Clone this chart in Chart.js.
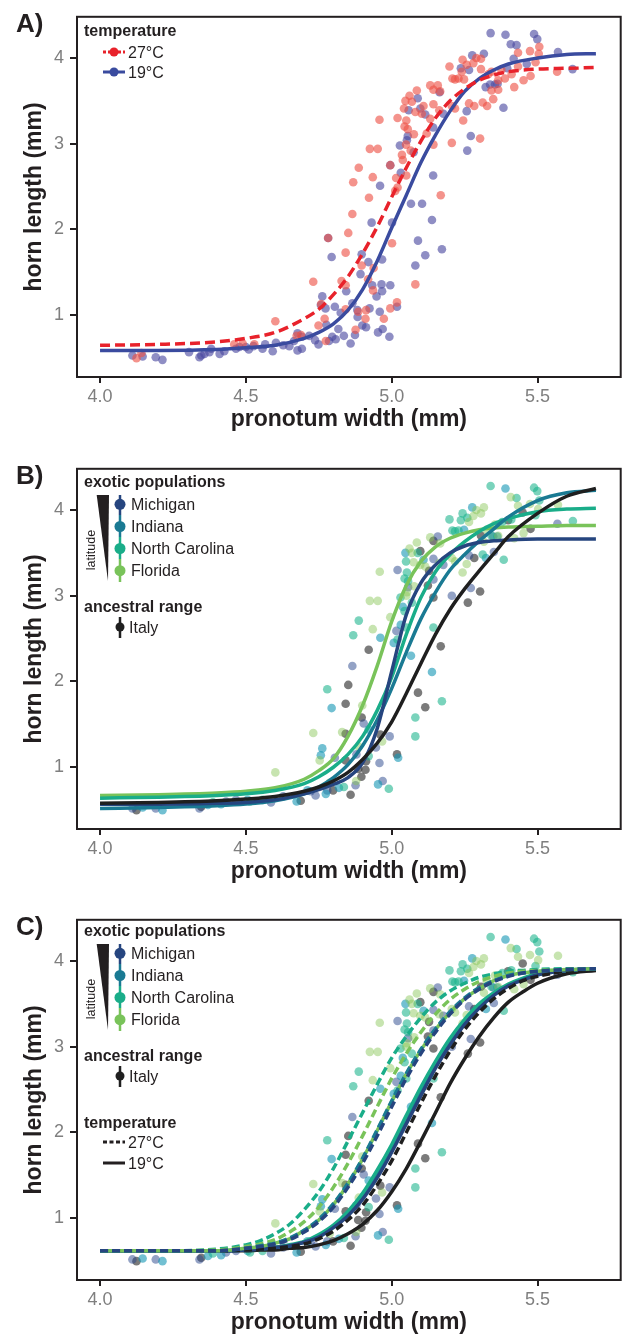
<!DOCTYPE html>
<html>
<head>
<meta charset="utf-8">
<script src="https://cdn.jsdelivr.net/npm/chart.js@4.4.0/dist/chart.umd.min.js"></script>
<style>
  body { margin: 0; background: #fff; width: 625px; height: 1338px; overflow: hidden; position: relative; }
  canvas { position: absolute; left: 0; }
</style>
</head>
<body>
<canvas id="panel-a" width="625" height="451" style="top:0px"></canvas>
<canvas id="panel-b" width="625" height="451" style="top:452px"></canvas>
<canvas id="panel-c" width="625" height="435" style="top:903px"></canvas>
<script>
// axes
const X_MIN = 3.921, X_MAX = 5.785;
const Y_MIN = 0.28, Y_MAX = 4.48;
const X_TICKS = [4.0, 4.5, 5.0, 5.5];
const Y_TICKS = [1, 2, 3, 4];

// fitted curves, panels A and B
const FIT_X = [4.0, 4.2, 4.4, 4.5, 4.6, 4.7, 4.75, 4.8, 4.85, 4.9, 4.95, 5.0, 5.05, 5.1, 5.15, 5.2, 5.25, 5.3, 5.35, 5.4, 5.5, 5.6, 5.7];
const FIT_27C = [0.65, 0.66, 0.69, 0.73, 0.80, 0.96, 1.07, 1.24, 1.45, 1.72, 2.03, 2.38, 2.72, 3.03, 3.30, 3.50, 3.64, 3.74, 3.80, 3.84, 3.87, 3.88, 3.89];
const FIT_19C = [0.59, 0.59, 0.60, 0.62, 0.65, 0.73, 0.80, 0.90, 1.06, 1.30, 1.63, 2.02, 2.40, 2.78, 3.10, 3.38, 3.61, 3.76, 3.86, 3.93, 4.00, 4.04, 4.05];
const FIT_MICHIGAN = [0.57, 0.57, 0.58, 0.59, 0.62, 0.69, 0.74, 0.80, 0.88, 1.05, 1.45, 2.12, 2.78, 3.15, 3.36, 3.50, 3.58, 3.62, 3.64, 3.65, 3.66, 3.66, 3.66];
const FIT_INDIANA = [0.52, 0.53, 0.55, 0.57, 0.61, 0.69, 0.77, 0.88, 1.03, 1.25, 1.55, 1.92, 2.34, 2.73, 3.04, 3.30, 3.48, 3.64, 3.78, 3.92, 4.11, 4.20, 4.23];
const FIT_NCAROLINA = [0.64, 0.65, 0.67, 0.69, 0.73, 0.81, 0.89, 1.00, 1.15, 1.36, 1.66, 2.05, 2.55, 2.98, 3.28, 3.48, 3.63, 3.75, 3.84, 3.90, 3.98, 4.01, 4.02];
const FIT_FLORIDA = [0.67, 0.68, 0.70, 0.72, 0.76, 0.86, 0.96, 1.10, 1.36, 1.72, 2.18, 2.70, 3.12, 3.40, 3.57, 3.67, 3.73, 3.77, 3.79, 3.80, 3.81, 3.82, 3.82];
const FIT_ITALY = [0.58, 0.59, 0.61, 0.63, 0.66, 0.72, 0.77, 0.84, 0.94, 1.09, 1.28, 1.53, 1.86, 2.21, 2.55, 2.84, 3.08, 3.29, 3.49, 3.69, 3.96, 4.16, 4.25];

// fitted curves, panel C (population x temperature)
const FIT_X_C = [4.0, 4.2, 4.4, 4.5, 4.55, 4.6, 4.65, 4.7, 4.75, 4.8, 4.85, 4.9, 4.95, 5.0, 5.05, 5.1, 5.15, 5.2, 5.25, 5.3, 5.35, 5.4, 5.45, 5.5, 5.6, 5.7];
const C_MICHIGAN_27 = [0.62, 0.62, 0.62, 0.65, 0.67, 0.70, 0.75, 0.84, 0.96, 1.13, 1.36, 1.64, 1.96, 2.30, 2.63, 2.92, 3.17, 3.38, 3.55, 3.67, 3.76, 3.82, 3.86, 3.88, 3.90, 3.91];
const C_INDIANA_27 = [0.62, 0.62, 0.62, 0.65, 0.68, 0.71, 0.77, 0.86, 0.99, 1.17, 1.41, 1.70, 2.03, 2.37, 2.69, 2.97, 3.21, 3.41, 3.57, 3.69, 3.77, 3.83, 3.86, 3.88, 3.90, 3.91];
const C_NCAROLINA_27 = [0.62, 0.62, 0.64, 0.69, 0.74, 0.82, 0.93, 1.10, 1.31, 1.58, 1.90, 2.23, 2.56, 2.87, 3.12, 3.34, 3.52, 3.65, 3.74, 3.81, 3.85, 3.88, 3.89, 3.90, 3.91, 3.91];
const C_FLORIDA_27 = [0.62, 0.62, 0.63, 0.67, 0.70, 0.75, 0.84, 0.96, 1.13, 1.36, 1.64, 1.96, 2.30, 2.63, 2.92, 3.17, 3.38, 3.55, 3.67, 3.76, 3.82, 3.86, 3.88, 3.89, 3.90, 3.91];
const C_ITALY_27 = [0.62, 0.62, 0.62, 0.63, 0.64, 0.65, 0.67, 0.70, 0.76, 0.85, 0.98, 1.15, 1.39, 1.67, 2.00, 2.34, 2.66, 2.95, 3.20, 3.40, 3.56, 3.68, 3.77, 3.82, 3.88, 3.90];
const C_MICHIGAN_19 = [0.62, 0.62, 0.62, 0.63, 0.64, 0.66, 0.68, 0.72, 0.78, 0.89, 1.03, 1.22, 1.47, 1.77, 2.10, 2.43, 2.75, 3.02, 3.26, 3.45, 3.60, 3.71, 3.78, 3.84, 3.89, 3.91];
const C_INDIANA_19 = [0.62, 0.62, 0.62, 0.63, 0.64, 0.66, 0.68, 0.72, 0.79, 0.90, 1.05, 1.25, 1.50, 1.80, 2.13, 2.47, 2.78, 3.05, 3.28, 3.47, 3.61, 3.72, 3.79, 3.84, 3.89, 3.91];
const C_NCAROLINA_19 = [0.62, 0.62, 0.62, 0.64, 0.65, 0.66, 0.69, 0.73, 0.81, 0.92, 1.08, 1.29, 1.56, 1.86, 2.20, 2.53, 2.83, 3.10, 3.32, 3.50, 3.63, 3.73, 3.80, 3.85, 3.89, 3.91];
const C_FLORIDA_19 = [0.62, 0.62, 0.62, 0.65, 0.67, 0.71, 0.76, 0.86, 0.98, 1.16, 1.40, 1.69, 2.02, 2.36, 2.68, 2.96, 3.20, 3.40, 3.56, 3.68, 3.77, 3.83, 3.86, 3.88, 3.90, 3.91];
const C_ITALY_19 = [0.62, 0.62, 0.62, 0.62, 0.63, 0.63, 0.65, 0.66, 0.69, 0.74, 0.82, 0.93, 1.09, 1.31, 1.58, 1.90, 2.23, 2.57, 2.86, 3.12, 3.34, 3.52, 3.64, 3.74, 3.85, 3.89];

// raw individuals [pronotum width, horn length], panel A by temperature
const OBS_27C = [
  [5.506,4.13],[5.474,4.08],[5.433,4.06],[5.504,4.05],[5.290,4.00],[5.243,3.98],[5.306,3.99],[5.280,3.94],[5.257,3.92],[5.198,3.90],
  [5.240,3.84],[5.493,3.95],[5.433,3.90],[5.376,3.86],[5.342,3.84],[5.331,3.81],[5.306,3.87],[5.567,3.84],[5.476,3.79],[5.452,3.74],
  [5.411,3.81],[5.388,3.76],[5.365,3.74],[5.208,3.76],[5.217,3.75],[5.229,3.76],[5.248,3.75],[5.132,3.68],[5.158,3.68],[5.143,3.63],
  [5.166,3.61],[5.086,3.62],[5.061,3.56],[5.047,3.50],[5.069,3.49],[5.042,3.41],[5.081,3.37],[5.109,3.44],[5.143,3.46],[5.103,3.35],
  [5.132,3.29],[5.163,3.39],[5.206,3.44],[5.217,3.41],[5.342,3.62],[5.365,3.63],[5.420,3.66],[5.265,3.47],[5.283,3.44],[5.312,3.48],
  [5.327,3.44],[5.348,3.52],[5.245,3.27],[4.958,3.28],[5.020,3.30],[5.050,3.27],[5.044,3.20],[5.055,3.17],[5.076,3.11],[5.120,3.12],
  [5.143,2.99],[5.206,3.01],[5.303,3.06],[5.049,2.99],[5.065,2.92],[4.925,2.94],[4.952,2.94],[5.035,2.87],[5.038,2.81],[4.887,2.72],
  [4.995,2.75],[5.050,2.63],[4.935,2.61],[4.868,2.55],[5.015,2.60],[5.020,2.49],[5.012,2.45],[4.922,2.37],[5.168,2.40],[4.865,2.18],
  [4.851,1.96],[4.782,1.90],[4.842,1.73],[4.897,1.58],[4.938,1.55],[4.919,1.42],[4.731,1.39],[4.828,1.40],[4.842,1.35],[4.936,1.29],
  [5.018,1.15],[4.758,1.13],[4.842,1.07],[4.885,1.04],[4.912,1.06],[4.973,0.96],[4.995,1.08],[4.910,0.96],[4.876,0.83],[4.749,0.88],
  [4.770,0.96],[4.774,0.70],[4.674,0.76],[4.689,0.77],[4.601,0.93],[4.529,0.66],[4.489,0.67],[4.460,0.66],[4.125,0.50],[4.142,0.56],
  [5.001,1.84],[5.081,1.36]
];
const OBS_19C = [
  [5.339,4.29],[5.390,4.27],[5.488,4.28],[5.499,4.22],[5.408,4.16],[5.428,4.15],[5.570,4.07],[5.316,4.05],[5.276,4.03],[5.418,3.99],
  [5.237,3.88],[5.265,3.86],[5.463,3.93],[5.396,3.88],[5.620,3.87],[5.164,3.60],[5.089,3.53],[5.058,3.39],[5.098,3.41],[5.115,3.34],
  [5.177,3.35],[5.322,3.66],[5.337,3.69],[5.354,3.69],[5.363,3.70],[5.383,3.42],[5.257,3.38],[5.055,3.09],[5.052,3.04],[5.142,3.19],
  [5.271,3.09],[5.259,2.92],[5.028,2.98],[5.075,2.90],[4.995,2.75],[5.031,2.66],[4.960,2.51],[5.142,2.63],[4.931,2.08],[5.001,2.08],
  [4.782,1.90],[4.794,1.68],[4.897,1.71],[4.920,1.62],[4.967,1.65],[4.893,1.48],[4.844,1.28],[4.933,1.35],[4.965,1.36],[4.995,1.35],
  [4.948,1.22],[4.967,1.28],[5.018,1.10],[4.762,1.22],[4.757,1.12],[4.773,1.08],[4.805,1.10],[4.825,1.03],[4.865,1.14],[4.882,1.06],
  [4.924,1.08],[4.959,1.04],[4.992,0.75],[4.953,0.80],[4.969,0.84],[4.883,0.98],[4.912,0.86],[4.899,0.88],[4.874,0.77],[4.859,0.67],
  [4.776,0.89],[4.817,0.84],[4.836,0.76],[4.796,0.75],[4.808,0.72],[4.785,0.70],[4.749,0.66],[4.737,0.71],[4.717,0.76],[4.692,0.75],
  [4.677,0.79],[4.665,0.70],[4.677,0.59],[4.692,0.61],[4.649,0.64],[4.628,0.65],[4.603,0.68],[4.592,0.58],[4.566,0.66],[4.557,0.61],
  [4.526,0.64],[4.510,0.60],[4.478,0.63],[4.500,0.63],[4.466,0.61],[4.426,0.58],[4.410,0.55],[4.381,0.61],[4.375,0.57],[4.347,0.53],
  [4.341,0.51],[4.358,0.55],[4.305,0.57],[4.214,0.48],[4.191,0.51],[4.146,0.52],[4.111,0.53],[5.138,2.11],[5.115,1.70],[5.172,1.77],
  [5.081,1.58],[5.090,1.87],[5.066,2.30],[5.104,2.30]
];

// raw individuals, panels B and C by population
const OBS_MICHIGAN = [
  [5.568,3.84],[5.348,3.69],[5.158,3.69],[5.143,3.43],[5.177,3.36],[5.265,3.47],[5.350,3.51],[5.020,3.30],[5.056,3.10],[5.143,3.19],
  [5.206,3.00],[5.271,3.09],[5.016,2.59],[4.865,2.18],[4.904,1.51],[4.805,1.11],[4.879,1.15],[4.993,1.36],[4.946,1.23],[4.958,1.05],
  [4.969,0.84],[4.876,0.79],[4.779,0.73],[4.739,0.67],[4.722,0.72],[4.628,0.66],[4.586,0.59],[4.466,0.62],[4.432,0.60],[4.341,0.52],
  [4.191,0.52],[4.111,0.52]
];
const OBS_INDIANA = [
  [5.390,4.25],[5.276,4.03],[5.248,3.77],[5.362,3.69],[5.047,3.50],[5.109,3.42],[5.323,3.44],[5.038,2.87],[5.031,2.66],[4.961,2.51],
  [5.007,2.45],[4.794,1.69],[4.921,1.44],[4.762,1.22],[4.757,1.14],[5.022,1.11],[4.953,0.80],[4.819,0.76],[4.774,0.69],[4.674,0.60],
  [4.711,0.73],[4.506,0.62],[4.415,0.57],[4.370,0.56],[4.214,0.50],[4.146,0.53],[5.138,2.11],[5.066,2.30]
];
const OBS_NCAROLINA = [
  [5.339,4.28],[5.488,4.26],[5.499,4.22],[5.428,4.14],[5.506,4.11],[5.243,3.96],[5.493,3.94],[5.259,3.91],[5.198,3.89],[5.237,3.88],
  [5.621,3.87],[5.379,3.86],[5.410,3.89],[5.217,3.75],[5.208,3.76],[5.229,3.76],[5.342,3.70],[5.089,3.50],[5.049,3.40],[5.312,3.48],
  [5.384,3.42],[5.052,3.27],[5.044,3.20],[5.056,3.17],[5.030,2.98],[5.069,2.92],[5.044,2.82],[4.887,2.71],[5.050,2.63],[5.143,2.63],
  [4.868,2.54],[5.020,2.49],[4.779,1.91],[4.921,1.13],[4.990,0.75],[4.836,0.77],[4.557,0.62],[4.387,0.59],[4.514,0.60],[5.081,1.58],
  [5.172,1.77],[5.081,1.36]
];
const OBS_FLORIDA = [
  [5.408,4.15],[5.474,4.07],[5.433,4.05],[5.570,4.06],[5.316,4.03],[5.290,4.00],[5.306,3.96],[5.502,4.01],[5.280,3.93],[5.265,3.86],
  [5.452,3.73],[5.354,3.83],[5.325,3.77],[5.365,3.70],[5.316,3.63],[5.420,3.67],[5.132,3.68],[5.086,3.62],[5.166,3.61],[5.061,3.55],
  [5.069,3.50],[5.075,3.39],[5.098,3.36],[5.115,3.34],[5.163,3.38],[5.206,3.44],[5.217,3.40],[5.257,3.37],[5.243,3.27],[4.959,3.28],
  [5.077,3.11],[5.052,3.04],[5.050,3.00],[4.925,2.94],[4.952,2.94],[4.995,2.75],[4.935,2.61],[4.899,1.72],[4.731,1.40],[4.830,1.41],
  [4.753,1.08],[4.887,1.24],[4.967,1.30],[4.878,0.84],[4.787,0.82],[4.601,0.94]
];
const OBS_ITALY = [
  [5.449,3.97],[5.476,3.78],[5.399,3.88],[5.306,3.70],[5.143,3.64],[5.098,3.52],[5.128,3.29],[5.283,3.44],[5.124,3.12],[5.143,2.98],
  [5.303,3.05],[5.261,2.92],[4.921,2.37],[5.168,2.41],[4.851,1.96],[4.842,1.74],[4.897,1.58],[4.842,1.39],[4.961,1.38],[4.842,1.08],
  [5.018,1.15],[4.912,1.07],[4.885,0.98],[4.910,0.97],[4.896,0.89],[4.859,0.68],[4.799,0.73],[4.688,0.61],[4.347,0.54],[4.125,0.50],
  [5.115,1.70],[5.090,1.87]
];

const TEMP_LABELS = ['27°C', '19°C'];
const POP_LABELS = ['Michigan', 'Indiana', 'North Carolina', 'Florida'];
const ANCESTRAL_LABEL = 'Italy';

// colours
const INK = '#231f20';
const TICK_GREY = '#7f7f7f';
const RED = '#e8222b', BLUE = '#3a4b9f';
const POP_COLORS = ['#26457f', '#1a7a93', '#1aad89', '#79c35a'];
const ITALY_COLOR = '#1f1f1f';
const DOT_27C = 'rgba(238,80,70,0.62)', DOT_19C = 'rgba(75,72,160,0.62)';
const DOT_POP = ['rgba(40,70,140,0.5)', 'rgba(20,150,180,0.6)', 'rgba(25,180,140,0.58)', 'rgba(130,195,80,0.45)'];
const DOT_ITALY = 'rgba(35,35,35,0.6)';
const FONT = "'Liberation Sans', Arial, sans-serif";

function curve(xs, ys, color, dash, order) {
    return {
        data: xs.map((x, i) => ({ x: x, y: ys[i] })),
        showLine: true, borderColor: color, borderWidth: 3.5, borderDash: dash || [],
        borderCapStyle: 'butt', pointRadius: 0, cubicInterpolationMode: 'monotone',
        fill: false, order: order
    };
}

function dots(pairs, color) {
    return {
        data: pairs.map(p => ({ x: p[0], y: p[1] })),
        backgroundColor: color, borderWidth: 0, pointRadius: 4.3, order: 100
    };
}

function baseOptions(canvasHeight) {
    return {
        responsive: false,
        animation: false,
        layout: { padding: { top: 11, right: 2, left: 0, bottom: canvasHeight - 435 } },
        plugins: { legend: { display: false }, tooltip: { enabled: false } },
        scales: {
            x: {
                type: 'linear', min: X_MIN, max: X_MAX,
                afterFit: s => { s.height = 58; },
                afterBuildTicks: s => { s.ticks = X_TICKS.map(v => ({ value: v })); },
                ticks: { color: TICK_GREY, font: { family: FONT, size: 18 }, padding: 3, autoSkip: false, maxRotation: 0, callback: v => Number(v).toFixed(1) },
                grid: { drawOnChartArea: false, drawTicks: true, tickLength: 6, color: INK, lineWidth: 2 },
                border: { display: false },
                title: { display: true, text: 'pronotum width (mm)', color: INK, font: { family: FONT, size: 23, weight: 'bold' }, padding: { top: 0, bottom: 1.5 } }
            },
            y: {
                type: 'linear', min: Y_MIN, max: Y_MAX,
                afterFit: s => { s.width = 77; },
                afterBuildTicks: s => { s.ticks = Y_TICKS.map(v => ({ value: v })); },
                ticks: { color: TICK_GREY, font: { family: FONT, size: 18 }, padding: 6, autoSkip: false, callback: v => String(v) },
                grid: { drawOnChartArea: false, drawTicks: true, tickLength: 7, color: INK, lineWidth: 2 },
                border: { display: false },
                title: { display: true, text: 'horn length (mm)', color: INK, font: { family: FONT, size: 23, weight: 'bold' }, padding: { top: 21, bottom: 0 } }
            }
        }
    };
}

const frame = {
    id: 'frame',
    afterDatasetsDraw(chart) {
        const { ctx, chartArea: a } = chart;
        ctx.save();
        ctx.strokeStyle = INK;
        ctx.lineWidth = 2;
        ctx.strokeRect(a.left, a.top, a.right - a.left, a.bottom - a.top);
        ctx.restore();
    }
};

function text(ctx, str, x, y, size, bold, color) {
    ctx.font = (bold ? 'bold ' : '') + size + 'px ' + FONT;
    ctx.fillStyle = color || INK;
    ctx.textAlign = 'left';
    ctx.textBaseline = 'alphabetic';
    ctx.fillText(str, x, y);
}

function dot(ctx, x, y, r, color) {
    ctx.beginPath();
    ctx.arc(x, y, r, 0, Math.PI * 2);
    ctx.fillStyle = color;
    ctx.fill();
}

function seg(ctx, x1, y1, x2, y2, color, width, dash) {
    ctx.beginPath();
    ctx.setLineDash(dash || []);
    ctx.moveTo(x1, y1);
    ctx.lineTo(x2, y2);
    ctx.strokeStyle = color;
    ctx.lineWidth = width;
    ctx.stroke();
    ctx.setLineDash([]);
}

function drawPopLegend(ctx, dy) {
    text(ctx, 'exotic populations', 84, 35 + dy, 16, true);
    // latitude wedge
    ctx.beginPath();
    ctx.moveTo(96.7, 43 + dy);
    ctx.lineTo(109, 43 + dy);
    ctx.lineTo(108, 129 + dy);
    ctx.closePath();
    ctx.fillStyle = INK;
    ctx.fill();
    ctx.save();
    ctx.translate(92, 98 + dy);
    ctx.rotate(-Math.PI / 2);
    ctx.font = '12.5px ' + FONT;
    ctx.fillStyle = INK;
    ctx.textAlign = 'center';
    ctx.textBaseline = 'middle';
    ctx.fillText('latitude', 0, 0);
    ctx.restore();
    const bands = [[43, 63], [63, 85], [85, 107], [107, 130]];
    const dotY = [52.3, 74.5, 96.5, 118.7];
    const baseY = [58, 80, 102, 124];
    POP_LABELS.forEach((name, i) => {
        seg(ctx, 120, bands[i][0] + dy, 120, bands[i][1] + dy, POP_COLORS[i], 2.5);
        dot(ctx, 120, dotY[i] + dy, 5.5, POP_COLORS[i]);
        text(ctx, name, 131, baseY[i] + dy, 16, false);
    });
    text(ctx, 'ancestral range', 84, 160 + dy, 16, true);
    seg(ctx, 120, 165 + dy, 120, 186 + dy, ITALY_COLOR, 2.5);
    dot(ctx, 120, 175 + dy, 4.5, ITALY_COLOR);
    text(ctx, ANCESTRAL_LABEL, 129, 181 + dy, 16, false);
}

function panelDeco(letter, extra) {
    return {
        id: 'deco' + letter,
        afterDraw(chart) {
            const ctx = chart.ctx;
            ctx.save();
            text(ctx, letter + ')', 16, 32, 26, true);
            extra(ctx);
            ctx.restore();
        }
    };
}

function makeChart(id, datasets, deco) {
    const canvas = document.getElementById(id);
    return new Chart(canvas.getContext('2d'), {
        type: 'scatter',
        data: { datasets: datasets },
        options: baseOptions(canvas.height),
        plugins: [frame, deco]
    });
}

// Panel A
makeChart('panel-a', [
    curve(FIT_X, FIT_27C, RED, [10, 5], 1),
    curve(FIT_X, FIT_19C, BLUE, [], 2),
    dots(OBS_27C, DOT_27C),
    dots(OBS_19C, DOT_19C)
], panelDeco('A', ctx => {
    text(ctx, 'temperature', 84, 36, 16, true);
    seg(ctx, 103, 52, 125, 52, RED, 3, [3, 2]);
    dot(ctx, 114, 52, 4.5, RED);
    text(ctx, TEMP_LABELS[0], 128, 58, 16, false);
    seg(ctx, 103, 72, 125, 72, BLUE, 3);
    dot(ctx, 114, 72, 4.5, BLUE);
    text(ctx, TEMP_LABELS[1], 128, 78, 16, false);
}));

// Panel B
makeChart('panel-b', [
    curve(FIT_X, FIT_ITALY, ITALY_COLOR, [], 1),
    curve(FIT_X, FIT_MICHIGAN, POP_COLORS[0], [], 2),
    curve(FIT_X, FIT_INDIANA, POP_COLORS[1], [], 3),
    curve(FIT_X, FIT_NCAROLINA, POP_COLORS[2], [], 4),
    curve(FIT_X, FIT_FLORIDA, POP_COLORS[3], [], 5),
    dots(OBS_FLORIDA, DOT_POP[3]),
    dots(OBS_NCAROLINA, DOT_POP[2]),
    dots(OBS_INDIANA, DOT_POP[1]),
    dots(OBS_MICHIGAN, DOT_POP[0]),
    dots(OBS_ITALY, DOT_ITALY)
], panelDeco('B', ctx => drawPopLegend(ctx, 0)));

// Panel C
const DASH = [8, 4];
makeChart('panel-c', [
    curve(FIT_X_C, C_MICHIGAN_27, POP_COLORS[0], DASH, 1),
    curve(FIT_X_C, C_INDIANA_27, POP_COLORS[1], DASH, 2),
    curve(FIT_X_C, C_FLORIDA_27, POP_COLORS[3], DASH, 3),
    curve(FIT_X_C, C_NCAROLINA_27, POP_COLORS[2], DASH, 4),
    curve(FIT_X_C, C_ITALY_27, ITALY_COLOR, DASH, 5),
    curve(FIT_X_C, C_FLORIDA_19, POP_COLORS[3], [], 6),
    curve(FIT_X_C, C_MICHIGAN_19, POP_COLORS[0], [], 7),
    curve(FIT_X_C, C_NCAROLINA_19, POP_COLORS[2], [], 8),
    curve(FIT_X_C, C_INDIANA_19, POP_COLORS[1], [], 9),
    curve(FIT_X_C, C_ITALY_19, ITALY_COLOR, [], 10),
    dots(OBS_FLORIDA, DOT_POP[3]),
    dots(OBS_NCAROLINA, DOT_POP[2]),
    dots(OBS_INDIANA, DOT_POP[1]),
    dots(OBS_MICHIGAN, DOT_POP[0]),
    dots(OBS_ITALY, DOT_ITALY)
], panelDeco('C', ctx => {
    drawPopLegend(ctx, -2);
    text(ctx, 'temperature', 84, 225, 16, true);
    seg(ctx, 103, 239, 125, 239, INK, 3, [4, 2.5]);
    text(ctx, TEMP_LABELS[0], 128, 245, 16, false);
    seg(ctx, 103, 260, 125, 260, INK, 3);
    text(ctx, TEMP_LABELS[1], 128, 266, 16, false);
}));
</script>
</body>
</html>
